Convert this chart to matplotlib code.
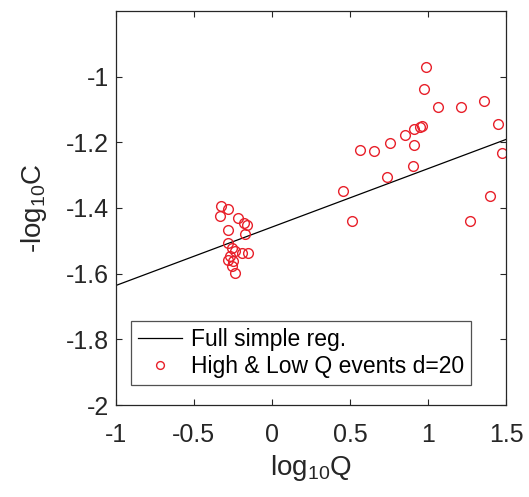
import matplotlib
matplotlib.use("Agg")
import matplotlib.pyplot as plt
import numpy as np

plt.rcParams['font.family'] = ['Liberation Sans', 'DejaVu Sans']
plt.rcParams['mathtext.fontset'] = 'custom'
plt.rcParams['mathtext.rm'] = 'Liberation Sans'
plt.rcParams['mathtext.it'] = 'Liberation Sans'
plt.rcParams['mathtext.default'] = 'regular'

# Scatter data: log10Q and -log10C
logQ = [-0.327, -0.280, -0.333, -0.216, -0.178, -0.163, -0.280, -0.173, -0.280,
        -0.258, -0.237, -0.194, -0.152, -0.269, -0.280, -0.248, -0.258, -0.237,
        0.987, 0.974, 1.066, 1.209, 1.359, 1.445, 0.960, 1.472, 1.397, 1.265,
        0.564, 0.650, 0.756, 0.853, 0.910, 0.949, 0.910, 0.901, 0.739, 0.457, 0.511]
neglogC = [-1.394, -1.404, -1.424, -1.429, -1.445, -1.452, -1.468, -1.480, -1.506,
           -1.521, -1.531, -1.536, -1.536, -1.547, -1.557, -1.562, -1.576, -1.598,
           -0.970, -1.037, -1.093, -1.091, -1.074, -1.143, -1.151, -1.232, -1.365, -1.439,
           -1.222, -1.226, -1.203, -1.179, -1.159, -1.152, -1.207, -1.271, -1.307, -1.348, -1.441]

# Regression line
reg_intercept = -1.458
reg_slope = 0.178
line_x = [-1.0, 1.5]

xticks = [-1, -0.5, 0, 0.5, 1, 1.5]
xticklabels = ['-1', '-0.5', '0', '0.5', '1', '1.5']
yticks = [-2, -1.8, -1.6, -1.4, -1.2, -1]
yticklabels = ['-2', '-1.8', '-1.6', '-1.4', '-1.2', '-1']

fig = plt.figure(figsize=(5.29, 4.97), dpi=100)
ax = fig.add_axes([0.219, 0.185, 0.738, 0.793])

lx = np.array(line_x)
ax.plot(lx, reg_intercept + reg_slope * lx, color='black', lw=0.9, label='Full simple reg.')
ax.plot(logQ, neglogC, linestyle='none', marker='o', ms=7, mfc='none', mec='#e8202a',
        mew=1.0, label='High & Low Q events d=20')

ax.set_xlim(-1, 1.5)
ax.set_ylim(-2, -0.8)
ax.set_xticks(xticks)
ax.set_xticklabels(xticklabels)
ax.set_yticks(yticks)
ax.set_yticklabels(yticklabels)
ax.tick_params(direction='in', top=True, right=True, labelsize=18, length=4, width=0.8,
               colors='#262626')
ax.tick_params(axis='x', pad=13)
ax.tick_params(axis='y', pad=5)
for sp in ax.spines.values():
    sp.set_linewidth(0.9)
    sp.set_color('#262626')

ax.set_xlabel('log$_{10}$Q', fontsize=20, color='#262626', labelpad=4)
ax.set_ylabel('-log$_{10}$C', fontsize=20, color='#262626', labelpad=12)

leg = ax.legend(loc='lower left', bbox_to_anchor=(0.04, 0.05), fontsize=16.5, frameon=True,
                fancybox=False, edgecolor='#262626', handlelength=1.9, handletextpad=0.4,
                borderpad=0.3, labelspacing=0.2, borderaxespad=0, markerscale=0.8)
leg.get_frame().set_linewidth(0.9)

fig.savefig('out.png', dpi=100)
